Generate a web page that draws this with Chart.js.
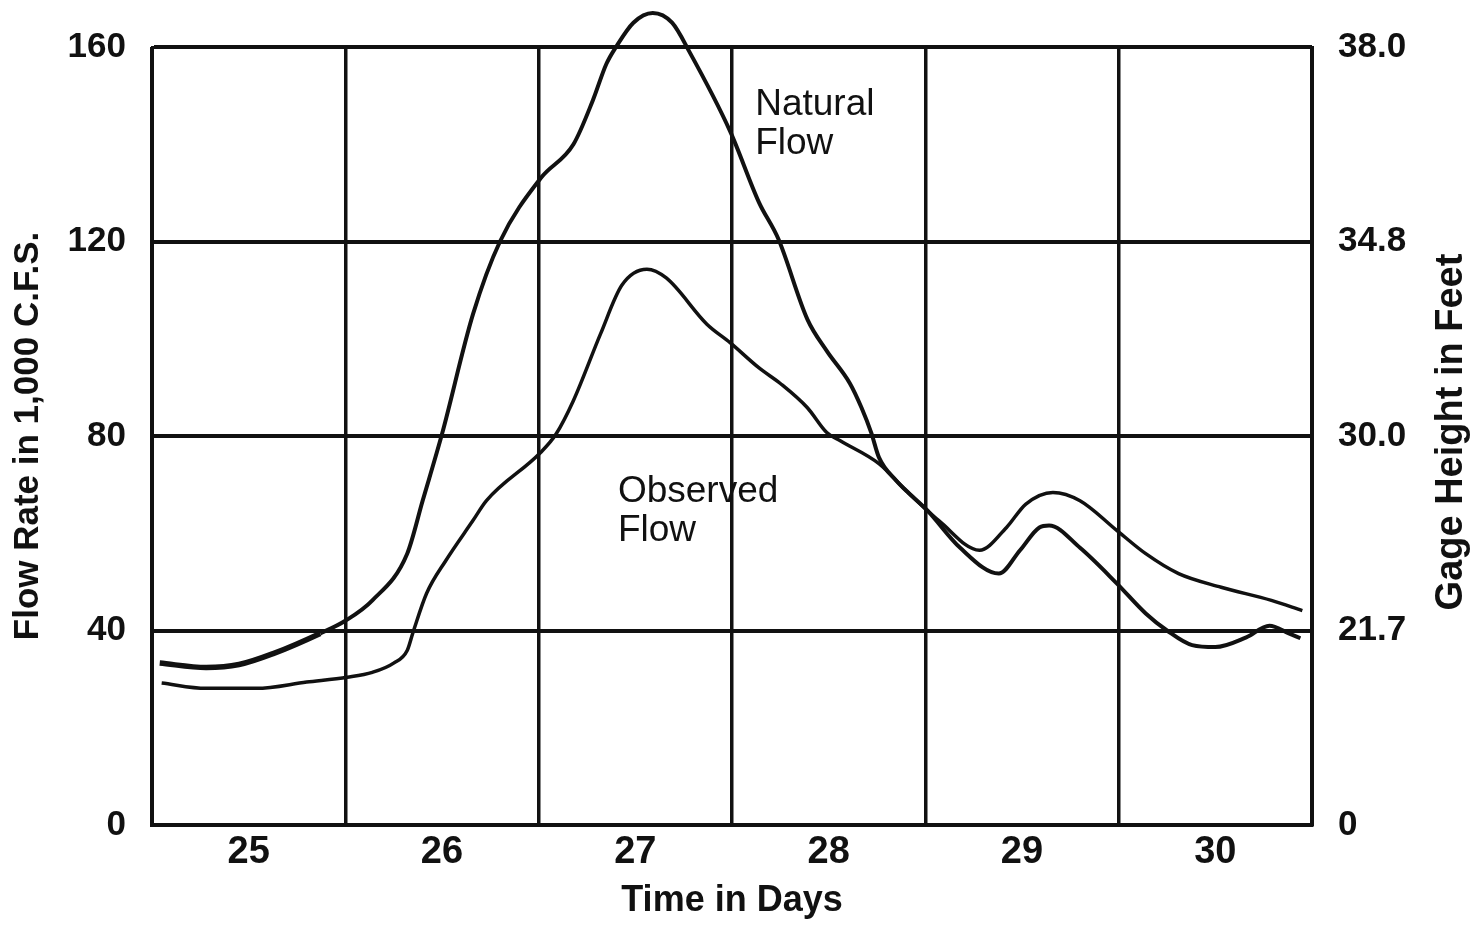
<!DOCTYPE html>
<html>
<head>
<meta charset="utf-8">
<script src="https://cdn.jsdelivr.net/npm/chart.js@4.4.1/dist/chart.umd.min.js"></script>
<style>
  html, body { margin: 0; padding: 0; background: #fff; }
</style>
</head>
<body>
<canvas id="canvas" width="1475" height="925"></canvas>
<script>

// values (days, flow in 1,000 c.f.s.)
let natDays = [24.54, 24.78, 24.95, 25.13, 25.37, 25.50, 25.64, 25.82, 25.90, 26.00,
  26.16, 26.30, 26.51, 26.68, 26.78, 26.85, 26.90, 26.99, 27.09, 27.19,
  27.28, 27.49, 27.64, 27.74, 27.89, 27.99, 28.11, 28.17, 28.22, 28.26,
  28.35, 28.40, 28.51, 28.68, 28.88, 28.99, 29.09, 29.14, 29.30, 29.49,
  29.64, 29.75, 29.88, 30.00, 30.16, 30.28, 30.38, 30.44];
let natFlow = [33.3, 32.4, 33.0, 35.3, 39.4, 42.0, 46.2, 55.8, 66.7, 80.4,
  105, 120, 133, 140, 149, 156.5, 160, 165, 167, 165,
  159, 142.7, 128, 120.5, 104, 97.5, 90.8, 85.8, 80.7, 75.6,
  70.8, 68.8, 64.7, 57.0, 51.7, 56.5, 61.2, 61.6, 57.0, 49.7,
  43.5, 40.0, 37.0, 36.6, 38.6, 41.0, 39.4, 38.4];

let obsDays = [24.55, 24.78, 25.04, 25.30, 25.51, 25.64, 25.75, 25.82, 25.85, 25.92,
  26.02, 26.16, 26.23, 26.51, 26.59, 26.68, 26.82, 26.93, 27.06, 27.16,
  27.37, 27.49, 27.64, 27.75, 27.89, 27.99, 28.06, 28.26, 28.40, 28.51,
  28.57, 28.78, 28.92, 29.02, 29.16, 29.30, 29.49, 29.64, 29.81, 30.03,
  30.29, 30.45];
let obsFlow = [29.2, 28.1, 28.1, 29.4, 30.4, 31.4, 33.3, 35.9, 39.6, 47.6,
  54.4, 62.6, 66.7, 76.6, 80.4, 87.3, 101, 111, 114.3, 112.5,
  103, 99.2, 94, 90.8, 85.8, 80.7, 79.0, 74.3, 68.8, 64.7,
  62.6, 56.5, 61.2, 66.0, 68.4, 66.7, 60.6, 55.8, 51.7, 48.9,
  46.2, 44.1];

let dayTicks  = [25, 26, 27, 28, 29, 30];
let flowTicks = [0, 40, 80, 120, 160];
let gageTicks = ['0', '21.7', '30.0', '34.8', '38.0'];

let notes = [
  { lines: ['Natural', 'Flow'],  day: 27.62, flow: 146 },
  { lines: ['Observed', 'Flow'], day: 26.91, flow: 66.5 }
];

function toPoints(xs, ys) {
  let pts = [];
  for (let i = 0; i < xs.length; i++) {
    pts.push({ x: xs[i], y: ys[i] });
  }
  return pts;
}

let sans = 'Liberation Sans, Arial, sans-serif';
let tickFont = { family: sans, size: 35, weight: 'bold' };

// white page + the text labels and the right axis title
let paper = {
  id: 'paper',
  beforeDraw(chart) {
    let ctx = chart.ctx;
    ctx.save();
    ctx.fillStyle = '#fff';
    ctx.fillRect(0, 0, chart.width, chart.height);
    ctx.restore();
  },
  afterDraw(chart) {
    let ctx = chart.ctx;
    let xs = chart.scales.x, ys = chart.scales.y;
    ctx.save();
    ctx.fillStyle = '#111';
    ctx.font = '37px ' + sans;
    ctx.textAlign = 'left';
    ctx.textBaseline = 'alphabetic';
    for (let n of notes) {
      let px = xs.getPixelForValue(n.day);
      let py = ys.getPixelForValue(n.flow);
      n.lines.forEach((t, i) => ctx.fillText(t, px, py + i * 39));
    }
    // right axis title reads bottom to top
    ctx.translate(1452, 432);
    ctx.rotate(-Math.PI / 2);
    ctx.textAlign = 'center';
    ctx.textBaseline = 'middle';
    ctx.font = 'bold 38px ' + sans;
    ctx.fillText('Gage Height in Feet', 0, 0);
    ctx.restore();
  }
};

let options = {
  type: 'line',
  data: {
    datasets: [
      {
        label: 'Natural Flow',
        data: toPoints(natDays, natFlow),
        borderColor: '#111',
        borderWidth: 4,
        pointRadius: 0,
        cubicInterpolationMode: 'monotone',
        clip: false,
        // the scan has this curve drawn heavier at its start
        segment: { borderWidth: c => c.p0.parsed.x < 25.3 ? 5.5 : undefined }
      },
      {
        label: 'Observed Flow',
        data: toPoints(obsDays, obsFlow),
        borderColor: '#111',
        borderWidth: 3.5,
        pointRadius: 0,
        cubicInterpolationMode: 'monotone',
        clip: false
      }
    ]
  },
  options: {
    responsive: false,
    animation: false,
    devicePixelRatio: 1,
    layout: { padding: { top: 46, left: 0, right: 0, bottom: 0 } },
    plugins: {
      legend: { display: false },
      tooltip: { enabled: false }
    },
    scales: {
      x: {
        type: 'linear',
        min: 24.5,
        max: 30.5,
        afterBuildTicks: s => { s.ticks = dayTicks.map(v => ({ value: v })); },
        afterFit: s => { s.height = 100; },
        grid: { offset: true, color: '#111', lineWidth: 3.5, drawTicks: false },
        border: { color: '#111', width: 4 },
        ticks: { color: '#111', font: { family: sans, size: 38, weight: 'bold' }, padding: 5, maxRotation: 0 },
        title: { display: true, text: 'Time in Days', color: '#111',
          font: { family: sans, size: 36, weight: 'bold' },
          padding: { top: 0, bottom: 2 } }
      },
      y: {
        position: 'left',
        min: 0,
        max: 160,
        afterBuildTicks: s => { s.ticks = flowTicks.map(v => ({ value: v })); },
        afterFit: s => { s.width = 152; },
        grid: { color: '#111', lineWidth: 4, drawTicks: false },
        border: { color: '#111', width: 3 },
        ticks: { color: '#111', font: tickFont, padding: 26 },
        title: { display: true, text: 'Flow Rate in 1,000 C.F.S.', color: '#111',
          font: { family: sans, size: 35, weight: 'bold' },
          padding: { top: 7, bottom: 0 } }
      },
      y2: {
        position: 'right',
        min: 0,
        max: 160,
        afterBuildTicks: s => { s.ticks = flowTicks.map(v => ({ value: v })); },
        afterFit: s => { s.width = 163; },
        grid: { display: false, drawTicks: false },
        border: { color: '#111', width: 3 },
        ticks: {
          color: '#111', font: tickFont, padding: 26,
          callback: (v, i) => gageTicks[i]
        }
      }
    }
  },
  plugins: [paper]
};

let chart = new Chart(document.getElementById('canvas'), options);
</script>
</body>
</html>
